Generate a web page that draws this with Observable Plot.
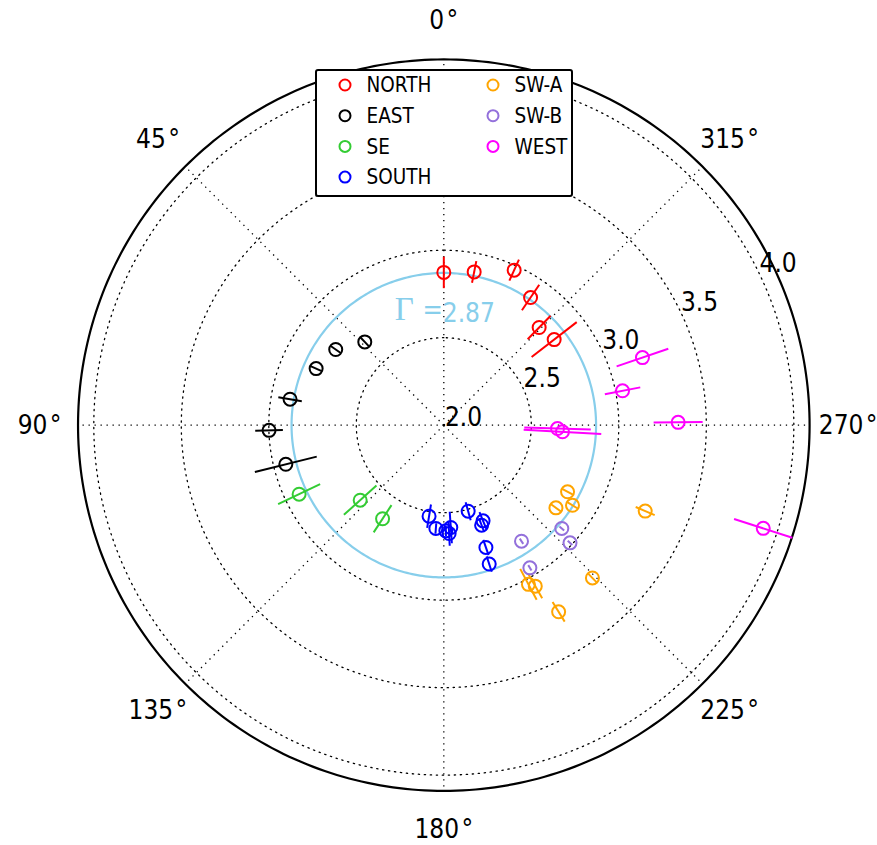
<!DOCTYPE html>
<html><head><meta charset="utf-8">
<script src="https://cdn.jsdelivr.net/npm/d3@7"></script>
<script src="https://cdn.jsdelivr.net/npm/@observablehq/plot@0.6"></script>
<style>
body{margin:0;background:#fff;}
#wrap{position:relative;width:877px;height:845px;font-family:"DejaVu Sans Condensed","DejaVu Sans",sans-serif;font-stretch:condensed;}
#wrap svg text{font-stretch:condensed;}
#legend{position:absolute;left:315px;top:69px;width:254px;height:124px;border:2px solid #000;border-radius:3px;background:#fff;}
</style></head><body><div id="wrap"></div>
<script>
// ---- data (angle in degrees, photon index Gamma, +/- error) ----
const seriesNames  = ["NORTH","EAST","SE","SOUTH","SW-A","SW-B","WEST"];
const seriesColors = ["#ff0000","#000000","#33cc33","#0000ff","#ffa500","#9370db","#ff00ff"];

const northTheta = [0, 348.8, 335.6, 325.8, 315.7, 307.8];
const northGamma = [2.873, 2.893, 2.973, 2.882, 2.780, 2.798];
const northErr   = [0.090, 0.063, 0.066, 0.088, 0.094, 0.163];

const eastTheta = [43.5, 55.0, 66.1, 80.4, 91.7, 103.9];
const eastGamma = [2.656, 2.754, 2.798, 2.891, 2.999, 2.930];
const eastErr   = [0.035, 0.035, 0.035, 0.068, 0.079, 0.182];

const seTheta = [115.5, 131.9, 146.8];
const seGamma = [2.916, 2.642, 2.639];
const seErr   = [0.133, 0.125, 0.093];

const southTheta = [170.8, 175.6, 181.1, 183.9, 182.8, 195.8, 200.7, 202.3, 199.0, 198.1];
const southGamma = [2.527, 2.592, 2.604, 2.586, 2.620, 2.511, 2.611, 2.591, 2.739, 2.835];
const southErr   = [0.068, 0.030, 0.030, 0.090, 0.070, 0.053, 0.040, 0.054, 0.046, 0.046];

const swaTheta = [241.7, 233.6, 238.1, 246.9, 224.2, 208.0, 209.6, 211.6];
const swaGamma = [2.803, 2.796, 2.866, 3.251, 3.218, 3.030, 3.058, 3.252];
const swaErr   = [0.035, 0.035, 0.035, 0.059, 0.035, 0.100, 0.080, 0.066];

const swbTheta = [213.8, 228.8, 227.0, 211.1];
const swbGamma = [2.798, 2.896, 2.986, 2.952];
const swbErr   = [0.018, 0.018, 0.018, 0.018];

const westTheta = [288.8, 280.9, 268.3, 266.8, 270.7, 252.1];
const westGamma = [3.199, 3.040, 2.650, 2.679, 3.339, 3.918];
const westErr   = [0.156, 0.103, 0.190, 0.222, 0.140, 0.175];

const ringValues  = [2.5, 3.0, 3.5, 4.0];
const ringLabels  = [2.0, 2.5, 3.0, 3.5, 4.0];
const angleTicks  = [0, 45, 90, 135, 180, 225, 270, 315];
const gammaMean   = 2.87;
const rCenter = 2.0, rOuter = 4.09;

// ---- build table ----
const thetas = [northTheta, eastTheta, seTheta, southTheta, swaTheta, swbTheta, westTheta];
const gammas = [northGamma, eastGamma, seGamma, southGamma, swaGamma, swbGamma, westGamma];
const errs   = [northErr, eastErr, seErr, southErr, swaErr, swbErr, westErr];
const points = [];
seriesNames.forEach((s, k) => thetas[k].forEach((t, i) =>
  points.push({series: s, theta: t, gamma: gammas[k][i], err: errs[k][i]})));

// polar -> cartesian (0 deg at top, angles increase counter-clockwise)
const D = Math.PI / 180;
const X = (g, t) => -(g - rCenter) * Math.sin(t * D);
const Y = (g, t) =>  (g - rCenter) * Math.cos(t * D);

const circ = d3.range(0, 361, 1);
const ringRows = ringValues.flatMap(r => circ.map(a => ({r, a})));
const FONT = '"DejaVu Sans Condensed", "DejaVu Sans", sans-serif';

const plot = Plot.plot({
  width: 877, height: 845, margin: 0,
  style: {fontFamily: FONT, background: "white", overflow: "visible"},
  x: {domain: [-2.533, 2.478], axis: null},
  y: {domain: [-2.402, 2.427], axis: null},
  color: {domain: seriesNames, range: seriesColors},
  marks: [
    Plot.line(ringRows, {x: d => X(d.r, d.a), y: d => Y(d.r, d.a), z: "r", stroke: "#000", strokeWidth: 1.3, strokeDasharray: "1.3,4.7"}),
    Plot.link(angleTicks, {x1: () => 0, y1: () => 0, x2: a => X(rOuter, a), y2: a => Y(rOuter, a), stroke: "#000", strokeWidth: 1.3, strokeDasharray: "1.3,4.7"}),
    Plot.line(circ, {x: a => X(rOuter, a), y: a => Y(rOuter, a), stroke: "#000", strokeWidth: 2.2}),
    Plot.line(circ, {x: a => X(gammaMean, a), y: a => Y(gammaMean, a), stroke: "#87ceeb", strokeWidth: 2.2}),
    Plot.text([gammaMean], {x: g => X(g, 0), y: g => Y(g, 0), text: () => "Γ", textAnchor: "end", lineAnchor: "bottom", dy: 47, dx: -30, fill: "#87ceeb", fontSize: 33, fontFamily: '"Liberation Serif", serif'}),
    Plot.text([gammaMean], {x: g => X(g, 0), y: g => Y(g, 0), text: () => "=", textAnchor: "end", lineAnchor: "bottom", dy: 46, dx: -1, fill: "#87ceeb", fontSize: 27, fontFamily: '"DejaVu Serif", serif'}),
    Plot.text([gammaMean], {x: g => X(g, 0), y: g => Y(g, 0), text: g => g.toFixed(2), textAnchor: "start", lineAnchor: "bottom", dy: 49, dx: -1, fill: "#87ceeb", fontSize: 26}),
    Plot.link(points, {x1: d => X(d.gamma - d.err, d.theta), y1: d => Y(d.gamma - d.err, d.theta),
                       x2: d => X(d.gamma + d.err, d.theta), y2: d => Y(d.gamma + d.err, d.theta),
                       stroke: "series", strokeWidth: 2}),
    Plot.dot(points, {x: d => X(d.gamma, d.theta), y: d => Y(d.gamma, d.theta), r: 6.5, stroke: "series", strokeWidth: 2, fill: "none"}),
    Plot.text(angleTicks, {x: a => X(rOuter + 0.22, a), y: a => Y(rOuter + 0.22, a), text: a => `${a}\u200A°`, fontSize: 26, fill: "#000"}),
    Plot.text(ringLabels, {x: r => X(r + 0.02, 296), y: r => Y(r + 0.02, 296), text: r => r.toFixed(1), textAnchor: "start", lineAnchor: "bottom", dx: -2, dy: 2, fontSize: 26, fill: "#000"})
  ]
});

const wrap = document.getElementById("wrap");
wrap.appendChild(plot);

// ---- legend (overlaid in the top of the plot area) ----
const leg = d3.select(wrap).append("div").attr("id", "legend");
const lsvg = leg.append("svg").attr("width", 254).attr("height", 124);
const cols = [[0,1,2,3],[4,5,6]];
cols.forEach((idx, c) => idx.forEach((k, row) => {
  const g = lsvg.append("g").attr("transform", `translate(${c === 0 ? 28 : 176},${14 + row * 30.7})`);
  g.append("circle").attr("r", 5.5).attr("fill", "none").attr("stroke", seriesColors[k]).attr("stroke-width", 2);
  g.append("text").attr("x", 21.5).attr("dy", "0.36em").attr("font-size", 20.5)
    .attr("font-family", FONT).style("font-stretch", "condensed").text(seriesNames[k]);
}));
</script></body></html>
